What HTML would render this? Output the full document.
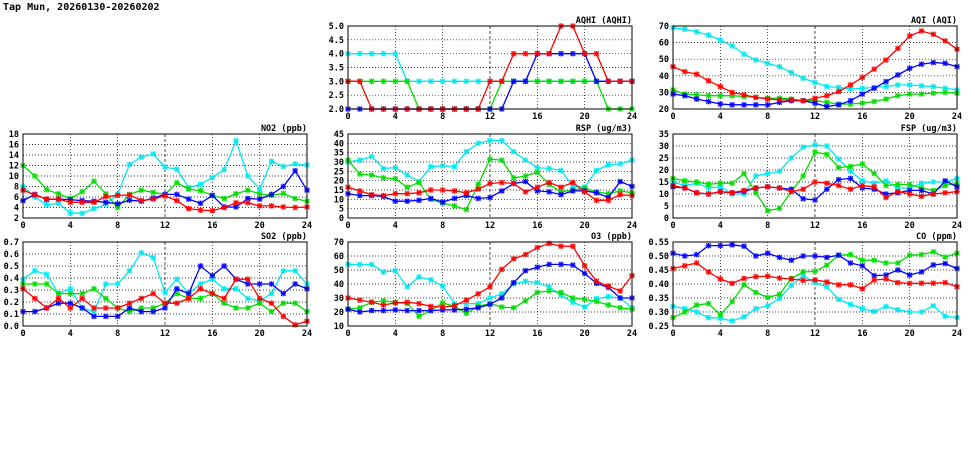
<!DOCTYPE html>
<html><head><meta charset="utf-8"><style>
body{margin:0;background:#fff;width:975px;height:447px;overflow:hidden}
svg text{font-family:"DejaVu Sans Mono","Liberation Mono",monospace;font-weight:bold;fill:#000}
</style></head><body>
<svg id="c" width="975" height="447">
<text x="3" y="10" font-size="10">Tap Mun, 20260130-20260202</text>
</svg>
<script>
const hours=[0,1,2,3,4,5,6,7,8,9,10,11,12,13,14,15,16,17,18,19,20,21,22,23,24];
const xTicks=[0,4,8,12,16,20,24];
// AQHI
const aqhiTicks=[2.0,2.5,3.0,3.5,4.0,4.5,5.0];
const aqhiCyan=[4,4,4,4,4,3,3,3,3,3,3,3,3,3,3,3,3,3,3,3,3,3,3,3,3];
const aqhiGreen=[3,3,3,3,3,3,2,2,2,2,2,2,2,3,3,3,3,3,3,3,3,3,2,2,2];
const aqhiBlue=[2,2,2,2,2,2,2,2,2,2,2,2,2,2,3,3,4,4,4,4,4,3,3,3,3];
const aqhiRed=[3,3,2,2,2,2,2,2,2,2,2,2,3,3,4,4,4,4,5,5,4,4,3,3,3];
// AQI
const aqiTicks=[20,30,40,50,60,70];
const aqiCyan=[69,68,66.5,64.5,61.5,58,53,49.5,47.5,45.5,42,38.5,36,33.5,33,32,32.5,33,33.5,34.5,34.5,34,33.5,32.5,31.5];
const aqiGreen=[31.5,29,28.5,28,28,28,27.5,27,26.5,26.5,26,25,25,24,23,23,23.5,24.5,26,28,29,29,29.5,30,29.5];
const aqiBlue=[29,28,26,24.5,23,22.5,22.5,22.5,22.5,24,25,25,23.5,21.5,22.5,25,29,32.5,36.5,40.5,44.5,47,48,47.5,45.5];
const aqiRed=[45.5,42.5,41,37,33.5,30,28.5,27,26,25.5,25.5,25,26.5,28,30.5,34.5,39,44,49.5,56.5,64,67,65,61,56];
// NO2
const no2Ticks=[2,4,6,8,10,12,14,16,18];
const no2Cyan=[8,6,4.5,4.8,3,2.9,3.8,4.6,6.5,12.2,13.6,14.2,11.7,11.3,7.8,8.4,9.7,11.2,16.7,10,7.5,12.8,11.8,12.3,12.1];
const no2Green=[12,10,7.4,6.6,5.7,7,9,6.6,4,6.5,7.3,6.9,6.5,8.7,7.5,7.2,6.3,5.7,6.6,7.3,6.6,6.3,6.7,5.7,5.2];
const no2Blue=[5.3,6.5,5.5,5.6,5.5,5.3,5.2,5,4.7,5.4,5.2,5.8,6.5,6.5,5.6,4.8,6.3,4.1,4.1,5.7,5.6,6.5,8,11,7.3];
const no2Red=[7.3,6.4,5.6,5.6,5,5,5,6.1,6.3,6.4,5.3,5.6,6.2,5.3,3.8,3.5,3.4,4,4.9,4.9,4.3,4.3,4.1,4,4.1];
// RSP
const rspTicks=[0,5,10,15,20,25,30,35,40,45];
const rspCyan=[30,31,33,26.5,27,23,19.5,27.5,28,27.5,35.5,40,41.5,41.5,35.5,31,27,26.5,25.5,17,16.5,25.5,28.5,29,31];
const rspGreen=[31,23.5,23,21.5,21,16.5,19,10,8,6.5,4.5,18,31.5,31,21.5,22.5,24.5,18,14,15,16,14,13,14.5,13.5];
const rspBlue=[13,12,12,11.5,9,9,9.5,10.5,8.5,10.5,12,10.5,11,14.5,18.5,19.5,14.5,14,12.5,14.5,14.5,13.5,11,19.5,17];
const rspRed=[16.5,14.5,12.5,12,13,13,13.5,15,15,14.5,13.5,15.5,18.5,19,18.5,14,16.5,19,16.5,19,14,9.5,9.5,12.5,12];
// FSP
const fspTicks=[0,5,10,15,20,25,30,35];
const fspCyan=[15,13.5,14.5,12.5,13,10,10,17.5,18.5,19.5,25,29.5,30.5,30,24.5,19.5,15.5,14.5,15.5,12.5,12.5,14.5,15,15,16.5];
const fspGreen=[16.5,15.5,15,14,14.5,14.5,18.5,10.5,3,4,11,17.5,27.5,26.5,21,21.5,22.5,18.5,13.5,14,14,12.5,11.5,13.5,14.5];
const fspBlue=[13,12.5,10.5,10,11,10.5,11,12.5,13,12.5,12,8,7.5,12,16,16.5,12.5,12,10,10.5,11.5,11.5,10,15.5,13];
const fspRed=[13.5,12.5,10.5,10,11,10.5,11.5,12.5,13,12.5,11,12,15,14.5,13.5,12,13.5,13,8.5,11,10,9,10,10.5,11];
// SO2
const so2Ticks=[0.0,0.1,0.2,0.3,0.4,0.5,0.6,0.7];
const so2Cyan=[.39,.46,.43,.27,.31,.15,.12,.35,.35,.46,.61,.57,.28,.39,.27,.35,.39,.31,.31,.23,.21,.27,.46,.46,.35];
const so2Green=[.35,.35,.35,.27,.27,.27,.31,.23,.15,.12,.15,.15,.19,.27,.23,.23,.27,.19,.15,.15,.19,.12,.19,.19,.12];
const so2Blue=[.12,.12,.15,.19,.19,.15,.08,.08,.08,.15,.12,.12,.15,.31,.27,.5,.42,.5,.39,.35,.35,.35,.27,.35,.31];
const so2Red=[.31,.23,.15,.23,.15,.23,.15,.15,.15,.19,.23,.27,.19,.19,.23,.31,.27,.23,.39,.39,.23,.19,.08,.01,.04];
// O3
const o3Ticks=[10,20,30,40,50,60,70];
const o3Cyan=[54,54,54,48.5,49.5,38,45,43,38.5,26,26,26,30,33,40,42,41,38,32,27,23.5,29.5,31,30,23];
const o3Green=[22,23,27,28,27,26,17,21,26.5,24,19,24,26,23.5,23,28,34,35,34,30,29,27.5,25,23,22];
const o3Blue=[22,20,21,21,21.5,21,21,21,21.5,21.5,22,23,25.5,30,41,49.5,52,54,54,53.5,47.5,40.5,37.5,30,30];
const o3Red=[30,28.5,27,25,26.5,27,26,24,23.5,24.5,28.5,33,38,50.5,58,61,66,69,67,67,53,42,38.5,35,46];
// CO
const coTicks=[0.25,0.30,0.35,0.40,0.45,0.50,0.55];
const coCyan=[.32,.312,.30,.28,.278,.268,.283,.312,.322,.348,.395,.43,.405,.39,.345,.327,.312,.302,.32,.308,.30,.30,.322,.285,.28];
const coGreen=[.28,.30,.325,.33,.29,.337,.397,.37,.352,.363,.42,.443,.445,.467,.503,.505,.485,.485,.475,.475,.503,.505,.515,.496,.51];
const coBlue=[.51,.50,.505,.537,.537,.54,.535,.50,.51,.495,.485,.50,.50,.495,.503,.475,.465,.43,.432,.45,.432,.443,.468,.473,.455];
const coRed=[.455,.465,.475,.443,.418,.402,.42,.426,.428,.421,.418,.413,.415,.407,.397,.397,.383,.414,.418,.405,.402,.403,.403,.405,.39];

const COLORS={cyan:'#00e8f0',green:'#00dd00',blue:'#0000ff',red:'#ff0000'};
const svg=document.getElementById('c');
const NS='http://www.w3.org/2000/svg';
function mk(tag,attrs,parent){const e=document.createElementNS(NS,tag);for(const k in attrs)e.setAttribute(k,attrs[k]);(parent||svg).appendChild(e);return e;}

function panel(id,title,L,T,R,B,ticks,dec,series){
  const g=mk('g',{});
  
  
  const ymin=ticks[0],ymax=ticks[ticks.length-1];
  const xs=v=>L+(v-0)/24*(R-L);
  const ys=v=>B-(v-ymin)/(ymax-ymin)*(B-T);
  ticks.forEach(t=>{
    const y=ys(t);
    if(t!==ymin&&t!==ymax){const gl=mk('line',{x1:L,x2:R,y1:y,y2:y,stroke:'#000','stroke-width':0.7,'stroke-dasharray':'1,2'},g);
    
    }
    const tl=mk('text',{x:L-4,y:y+3,'font-size':8.5,'text-anchor':'end'},g);
    
    
    tl.textContent=t.toFixed(dec);
  });
  xTicks.forEach(t=>{
    const x=xs(t);
    if(t!==0&&t!==24){const gl=mk('line',{x1:x,x2:x,y1:T,y2:B,stroke:'#000','stroke-width':0.7,'stroke-dasharray':t===12?'3,2':'1,2'},g);
    
    }
    const tl=mk('text',{x:x,y:B+10,'font-size':8.5,'text-anchor':'middle'},g);
    
    
    tl.textContent=t;
  });
  const ttl=mk('text',{x:R,y:T-3,'font-size':8.5,'text-anchor':'end'},g);
  
  
  ttl.textContent=title;
  const clipId='clip-'+id;
  const cp=mk('clipPath',{id:clipId},g);mk('rect',{x:L-4,y:T-4,width:R-L+8,height:B-T+8},cp);
  const sg=mk('g',{'clip-path':'url(#'+clipId+')'},g);
  series.forEach(([name,vals])=>{
    const c=COLORS[name];
    const pts=vals.map((v,i)=>xs(hours[i]).toFixed(1)+','+ys(v).toFixed(1)).join(' ');
    const pl=mk('polyline',{points:pts,fill:'none',stroke:c,'stroke-width':1.3},sg);
    
    
    vals.forEach((v,i)=>{
      const x=xs(hours[i]),y=ys(v);
      const m=mk('g',{},sg);
      
      
      mk('rect',{x:x-2.7,y:y-2.7,width:5.4,height:5.4,fill:c,'fill-opacity':0.3},m);
      mk('path',{d:`M${x-2.2},${y-2.2}L${x+2.2},${y+2.2}M${x-2.2},${y+2.2}L${x+2.2},${y-2.2}M${x},${y-2.7}L${x},${y+2.7}M${x-2.7},${y}L${x+2.7},${y}`,stroke:c,'stroke-width':1},m);
    });
  });
  const fr=mk('rect',{x:L,y:T,width:R-L,height:B-T,fill:'none',stroke:'#000','stroke-width':1},g);
  
  
}
const S=(c,g,b,r)=>[['cyan',c],['green',g],['blue',b],['red',r]];
panel('aqhi','AQHI (AQHI)',348,26,632,109,aqhiTicks,1,S(aqhiCyan,aqhiGreen,aqhiBlue,aqhiRed));
panel('aqi','AQI (AQI)',673,26,957,109,aqiTicks,0,S(aqiCyan,aqiGreen,aqiBlue,aqiRed));
panel('no2','NO2 (ppb)',23,134,307,218,no2Ticks,0,S(no2Cyan,no2Green,no2Blue,no2Red));
panel('rsp','RSP (ug/m3)',348,134,632,218,rspTicks,0,S(rspCyan,rspGreen,rspBlue,rspRed));
panel('fsp','FSP (ug/m3)',673,134,957,218,fspTicks,0,S(fspCyan,fspGreen,fspBlue,fspRed));
panel('so2','SO2 (ppb)',23,242,307,326,so2Ticks,1,S(so2Cyan,so2Green,so2Blue,so2Red));
panel('o3','O3 (ppb)',348,242,632,326,o3Ticks,0,S(o3Cyan,o3Green,o3Blue,o3Red));
panel('co','CO (ppm)',673,242,957,326,coTicks,2,S(coCyan,coGreen,coBlue,coRed));
</script>
</body></html>
